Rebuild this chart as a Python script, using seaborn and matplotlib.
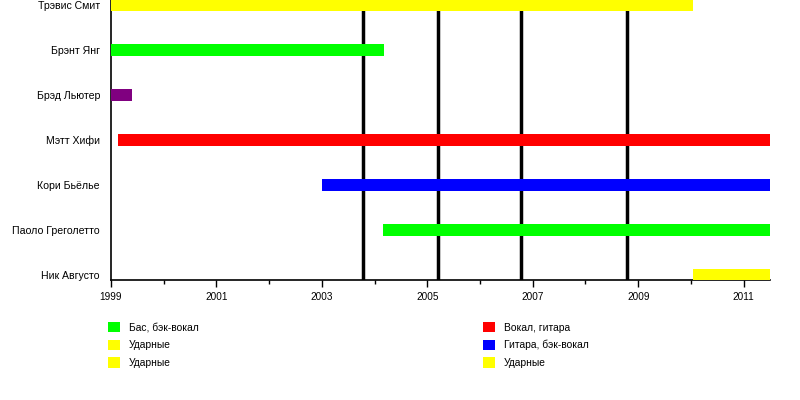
import numpy as np
import pandas as pd
import seaborn as sns
from matplotlib import pyplot as plt
from matplotlib.patches import Patch

members = ['Трэвис Смит', 'Брэнт Янг', 'Брэд Льютер', 'Мэтт Хифи',
           'Кори Бьёлье', 'Паоло Греголетто', 'Ник Августо']
start = [1999.0, 1999.0, 1999.0, 1999.13, 2003.0, 2004.16, 2010.03]
end = [2010.03, 2004.18, 1999.4, 2011.5, 2011.5, 2011.5, 2011.5]
colors = ['#ffff00', '#00ff00', '#800080', '#ff0000', '#0000ff', '#00ff00', '#ffff00']
albums = [2003.78, 2005.21, 2006.78, 2008.78]
major_years = [1999, 2001, 2003, 2005, 2007, 2009, 2011]
minor_years = [2000, 2002, 2004, 2006, 2008, 2010]

legend_left = [('Бас, бэк-вокал', '#00ff00'), ('Ударные', '#ffff00'), ('Ударные', '#ffff00')]
legend_right = [('Вокал, гитара', '#ff0000'), ('Гитара, бэк-вокал', '#0000ff'), ('Ударные', '#ffff00')]

df = pd.DataFrame({'member': members, 'start': start, 'end': end, 'color': colors})
df['length'] = df['end'] - df['start']

sns.set_theme(style='white')
plt.rcParams['font.family'] = ['Liberation Sans', 'DejaVu Sans']
plt.rcParams['text.color'] = 'black'
plt.rcParams['xtick.color'] = 'black'
plt.rcParams['ytick.color'] = 'black'

fig = plt.figure(figsize=(8, 4), dpi=100)
ax = fig.add_axes([111 / 800, 0.3, 659 / 800, 0.7])

ax.barh(df['member'], df['length'], left=df['start'], height=0.25,
        color=df['color'], edgecolor='none', linewidth=0, zorder=3)
for a in albums:
    ax.axvline(a, color='black', lw=2.5, zorder=2)

ax.set_xlim(1999, 2011.5)
ax.set_ylim(len(members) - 1 + 0.111, -0.111)
ax.set_xticks(major_years)
ax.set_xticks(minor_years, minor=True)
ax.tick_params(axis='x', which='major', length=5, width=1, color='black',
               labelsize=7.2, pad=4, bottom=True)
ax.tick_params(axis='x', which='minor', length=3, width=1, color='black', bottom=True)
ax.tick_params(axis='y', length=0, labelsize=7.6, pad=8)
sns.despine(ax=ax)
for s in ['left', 'bottom']:
    ax.spines[s].set_color('black')
    ax.spines[s].set_linewidth(1.2)

def legend(items, x):
    handles = [Patch(facecolor=c, edgecolor='none') for _, c in items]
    labels = [t for t, _ in items]
    fig.legend(handles, labels, loc='upper left', bbox_to_anchor=(x, 1 - 322 / 400),
               frameon=False, fontsize=7.4, handlelength=1.17, handleheight=1.17,
               handletextpad=0.87, labelspacing=0.68, borderaxespad=0, borderpad=0)

legend(legend_left, 108 / 800)
legend(legend_right, 483 / 800)

plt.savefig('out.png', dpi=100)
